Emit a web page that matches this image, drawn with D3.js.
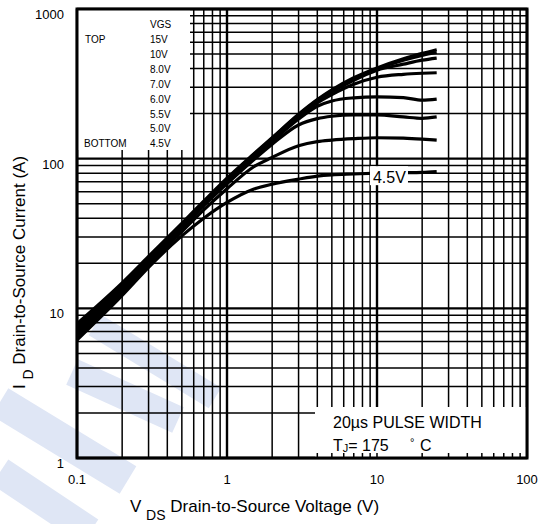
<!DOCTYPE html>
<html>
<head>
<meta charset="utf-8">
<script src="https://cdn.jsdelivr.net/npm/d3@7"></script>
<style>
  body { margin: 0; background: #fff; }
  svg { display: block; font-family: "Liberation Sans", Arial, sans-serif; }
</style>
</head>
<body>
<div id="chart"></div>
<script>
// VDS sample points (V) and ID (A)
const vds = [0.1, 0.2, 0.3, 0.5, 0.7, 1, 1.5, 2, 3, 4, 5, 7, 10, 15, 20, 25];
const id15 = [7.9, 14.8, 22.2, 37, 52, 74, 107, 138, 198, 248, 288, 347, 404, 465, 505, 535];
const id10 = [7.7, 14.5, 21.9, 36.5, 51.5, 73, 106, 137, 196, 245, 284, 342, 398, 455, 490, 512];
const id8 = [7.5, 14.2, 21.5, 36, 51, 72, 105, 135, 194, 242, 279, 334, 390, 428, 455, 470];
const id7 = [7.3, 13.9, 21.1, 35.5, 50.5, 71, 103, 133, 191, 236, 268, 314, 350, 366, 372, 375];
const id6 = [7.05, 13.6, 20.7, 35, 49.5, 70, 101, 130, 184, 224, 243, 255, 259, 256, 246, 250];
const id55 = [6.8, 13.3, 20.3, 34, 48.5, 68, 98, 125, 168, 185, 192, 196, 196, 190, 186, 190];
const id5 = [6.5, 12.8, 19.6, 32.5, 45.5, 63, 88, 102, 122, 130, 133, 136, 138, 137, 135, 133];
const id45 = [6.15, 12.2, 18.8, 30.5, 40, 51, 62.5, 67.5, 73, 76.5, 78, 79, 80, 80.5, 81, 82];

const vgsLabels = ["15V", "10V", "8.0V", "7.0V", "6.0V", "5.5V", "5.0V", "4.5V"];
const xTicks = [0.1, 1, 10, 100];
const yTicks = [1, 10, 100, 1000];

const series = [id15, id10, id8, id7, id6, id55, id5, id45];

const width = 549, height = 524;
const margin = { top: 9, right: 22, bottom: 66, left: 77 };
const plotW = width - margin.left - margin.right;
const plotH = height - margin.top - margin.bottom;

const svg = d3.select("#chart")
  .append("svg")
  .attr("width", width)
  .attr("height", height);

// faint watermark stripes
const wmBands = [
  [[95, 325], [215, 398], 24],
  [[72, 372], [178, 420], 28],
  [[0, 402], [128, 480], 32],
  [[0, 472], [90, 532], 30]
];
svg.append("g")
  .selectAll("line")
  .data(wmBands)
  .join("line")
  .attr("x1", d => d[0][0]).attr("y1", d => d[0][1])
  .attr("x2", d => d[1][0]).attr("y2", d => d[1][1])
  .attr("stroke", "#dfe6f5")
  .attr("stroke-width", d => d[2]);

const g = svg.append("g")
  .attr("transform", `translate(${margin.left},${margin.top})`);

const x = d3.scaleLog().domain([0.1, 100]).range([0, plotW]);
const y = d3.scaleLog().domain([1, 1000]).range([plotH, 0]);

const decadeGrid = (lo, hi) => {
  const out = [];
  for (let d = lo; d < hi * 0.99; d *= 10) {
    for (let k = 1; k < 10; k++) out.push(k * d);
  }
  out.push(hi);
  return out;
};
const xGrid = decadeGrid(0.1, 100);
const yGrid = decadeGrid(1, 1000);
const isMajor = v => Math.abs(Math.log10(v) - Math.round(Math.log10(v))) < 1e-6;

// grid lines
g.append("g")
  .selectAll("line")
  .data(xGrid)
  .join("line")
  .attr("x1", d => x(d)).attr("x2", d => x(d))
  .attr("y1", 0).attr("y2", plotH)
  .attr("stroke", "#000")
  .attr("stroke-width", d => isMajor(d) ? 2.4 : 1.5);

g.append("g")
  .selectAll("line")
  .data(yGrid)
  .join("line")
  .attr("y1", d => y(d)).attr("y2", d => y(d))
  .attr("x1", 0).attr("x2", plotW)
  .attr("stroke", "#000")
  .attr("stroke-width", d => isMajor(d) ? 2.4 : 1.5);

// legend box and note box cover the grid
g.append("rect")
  .attr("x", 0).attr("y", 0)
  .attr("width", 113).attr("height", 141)
  .attr("fill", "#fff");

const noteX = 315 - margin.left, noteY = 407 - margin.top;
g.append("rect")
  .attr("x", noteX).attr("y", noteY)
  .attr("width", plotW - noteX).attr("height", plotH - noteY)
  .attr("fill", "#fff");

// small ticks on the bottom edge inside the note box
g.append("g")
  .selectAll("line")
  .data(xGrid.filter(d => x(d) > noteX))
  .join("line")
  .attr("x1", d => x(d)).attr("x2", d => x(d))
  .attr("y1", plotH - 5).attr("y2", plotH)
  .attr("stroke", "#000")
  .attr("stroke-width", 1.5);

// curves
const line = d3.line()
  .x((d, i) => x(vds[i]))
  .y(d => y(d))
  .curve(d3.curveMonotoneX);

g.append("g")
  .selectAll("path")
  .data(series)
  .join("path")
  .attr("d", line)
  .attr("fill", "none")
  .attr("stroke", "#000")
  .attr("stroke-width", 3.2);

// 4.5V curve label
const lab = g.append("g")
  .attr("transform", `translate(${x(9.4)},${y(80)})`);
lab.append("rect")
  .attr("x", -3).attr("y", -7)
  .attr("width", 38).attr("height", 19)
  .attr("fill", "#fff");
lab.append("text")
  .attr("x", 0).attr("y", 10)
  .attr("font-size", 16)
  .text("4.5V");

// frame
g.append("rect")
  .attr("width", plotW).attr("height", plotH)
  .attr("fill", "none")
  .attr("stroke", "#000")
  .attr("stroke-width", 3);

// tick labels
g.append("g")
  .selectAll("text")
  .data(yTicks)
  .join("text")
  .attr("x", -13)
  .attr("y", d => y(d) + 10)
  .attr("text-anchor", "end")
  .attr("font-size", 13)
  .text(d => d);

g.append("g")
  .selectAll("text")
  .data(xTicks)
  .join("text")
  .attr("x", d => x(d))
  .attr("y", plotH + 26)
  .attr("text-anchor", "middle")
  .attr("font-size", 13)
  .text(d => d);

// legend
const legend = g.append("g").attr("font-size", 10);
legend.append("text").attr("x", 73).attr("y", 19).text("VGS");
legend.append("text").attr("x", 8).attr("y", 34).text("TOP");
legend.append("text").attr("x", 7).attr("y", 138).text("BOTTOM");
legend.selectAll(".vgs")
  .data(vgsLabels)
  .join("text")
  .attr("class", "vgs")
  .attr("x", 73)
  .attr("y", (d, i) => 34 + i * 14.9)
  .text(d => d);

// note box text
const note = g.append("g").attr("font-size", 16);
note.append("text")
  .attr("x", 333 - margin.left).attr("y", 428 - margin.top)
  .text("20µs PULSE WIDTH");
const tj = note.append("text")
  .attr("x", 333 - margin.left).attr("y", 451 - margin.top);
tj.append("tspan").text("T");
tj.append("tspan").attr("font-size", 11).attr("dy", 1).text("J");
tj.append("tspan").attr("dy", -1).text("= 175");
tj.append("tspan").attr("x", 410 - margin.left).attr("dy", -5).attr("font-size", 11).text("°");
tj.append("tspan").attr("x", 420 - margin.left).attr("dy", 5).text("C");

// axis titles
const xt = svg.append("text")
  .attr("x", 130).attr("y", 512)
  .attr("font-size", 17);
xt.append("tspan").text("V ");
xt.append("tspan").attr("font-size", 14).attr("dy", 8).text("DS");
xt.append("tspan").attr("dy", -8).text(" Drain-to-Source Voltage (V)");

const yt = svg.append("text")
  .attr("transform", "translate(25,389) rotate(-90)")
  .attr("font-size", 17);
yt.append("tspan").text("I ");
yt.append("tspan").attr("font-size", 14).attr("dy", 8).text("D");
yt.append("tspan").attr("dy", -8).text(" Drain-to-Source Current (A)");
</script>
</body>
</html>
